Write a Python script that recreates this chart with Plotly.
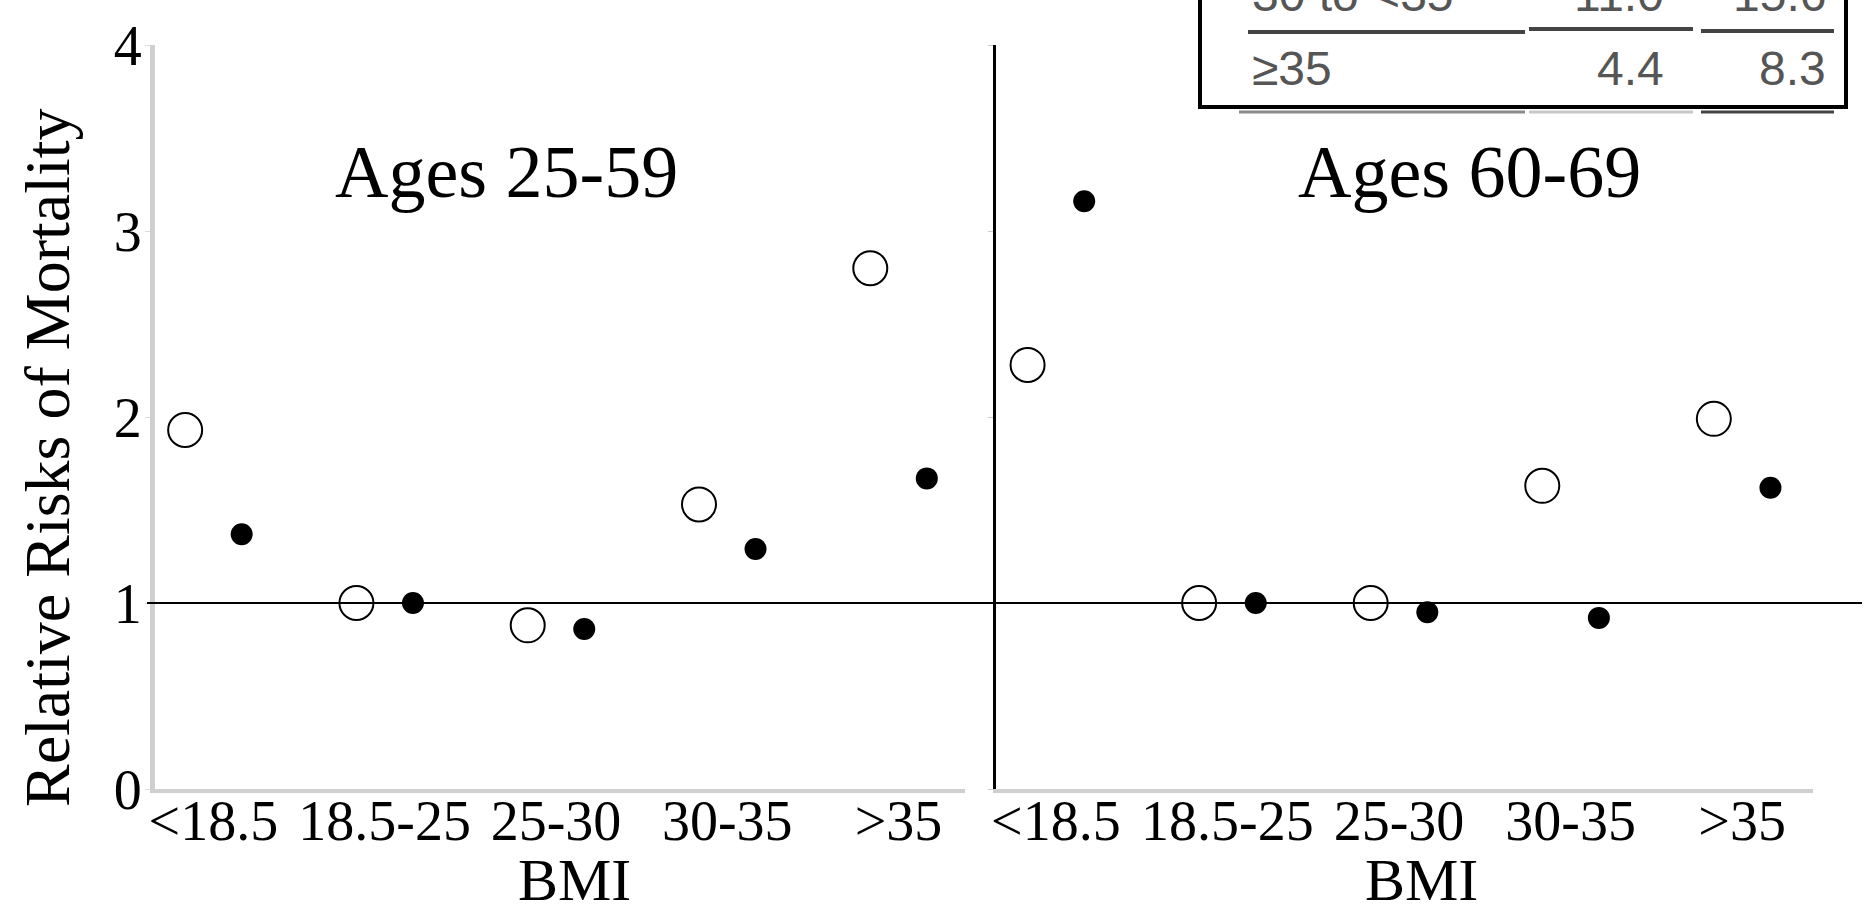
import plotly.graph_objects as go

W, H = 1864, 915

# BMI categories shared by both age panels
categories = ["<18.5", "18.5-25", "25-30", "30-35", ">35"]

# Relative risks, ages 25-59
open_25_59 = [1.93, 1.00, 0.88, 1.53, 2.80]
filled_25_59 = [1.37, 1.00, 0.86, 1.29, 1.67]

# Relative risks, ages 60-69
open_60_69 = [2.28, 1.00, 1.00, 1.63, 1.99]
filled_60_69 = [3.16, 1.00, 0.95, 0.92, 1.62]

y_ticks = [0, 1, 2, 3, 4]

# Inset table fragment (last rows)
table_rows = [["30 to <35", "11.0", "15.6"], ["\u226535", "4.4", "8.3"]]

SERIF = "Liberation Serif, Times New Roman, serif"
SANS = "Liberation Sans Narrow, Liberation Sans, Arial, sans-serif"

def px(x):
    return x / W

def py(y):
    return 1 - y / H

idx = list(range(len(categories)))
OFF = 0.165

fig = go.Figure()

open_marker = dict(symbol="circle", size=34, color="white", line=dict(color="black", width=2))
filled_marker = dict(symbol="circle", size=22, color="black", line=dict(width=0))

for xa, ya, o_vals, f_vals in [("x", "y", open_25_59, filled_25_59),
                               ("x2", "y2", open_60_69, filled_60_69)]:
    fig.add_trace(go.Scatter(x=[i - OFF for i in idx], y=o_vals, mode="markers",
                             marker=open_marker, xaxis=xa, yaxis=ya,
                             showlegend=False, name="hollow"))
    fig.add_trace(go.Scatter(x=[i + OFF for i in idx], y=f_vals, mode="markers",
                             marker=filled_marker, xaxis=xa, yaxis=ya,
                             showlegend=False, name="solid"))

axis_gray = "#cfcfcf"
tick_font = dict(family=SERIF, size=56, color="black")
title_font = dict(family=SERIF, size=60, color="black")

common_x = dict(tickmode="array", tickvals=idx, ticktext=categories,
                showgrid=False, zeroline=False, showline=True, linecolor=axis_gray,
                linewidth=4, ticks="", tickfont=tick_font, automargin=False,
                ticklabelstandoff=-20)

fig.update_layout(
    width=W, height=H,
    margin=dict(l=0, r=0, t=0, b=0, pad=0),
    paper_bgcolor="white", plot_bgcolor="white",
    xaxis=dict(domain=[px(155), px(965)], range=[-0.341, 4.388], anchor="y", **common_x),
    xaxis2=dict(domain=[px(996), px(1813)], range=[-0.349, 4.413], anchor="y2", **common_x),
    yaxis=dict(domain=[py(789), py(45)], range=[0, 4], tickvals=y_ticks, automargin=False,
               showgrid=False, zeroline=False, showline=True, linecolor=axis_gray,
               linewidth=5, ticks="outside", ticklen=5, tickcolor="#dddddd",
               tickfont=tick_font, ticklabelstandoff=-8),
    yaxis2=dict(domain=[py(789), py(45)], range=[0, 4], anchor="x2", tickvals=y_ticks,
                automargin=False, showticklabels=False, showgrid=False, zeroline=False,
                showline=True, linecolor="black", linewidth=3, ticks="outside", ticklen=5,
                tickcolor="#cccccc"),
)

# Axis titles
fig.add_annotation(text="Relative Risks of Mortality", xref="paper", yref="paper",
                   x=px(48), y=py(458), textangle=-90, xanchor="center", yanchor="middle",
                   showarrow=False, font=dict(family=SERIF, size=64, color="black"))
for cx in (574, 1421):
    fig.add_annotation(text="BMI", xref="paper", yref="paper", x=px(cx), y=py(880),
                       xanchor="center", yanchor="middle", showarrow=False, font=title_font)

# Reference line at a relative risk of 1 running across both panels
fig.add_shape(type="line", xref="paper", yref="y", x0=px(147), x1=px(1862), y0=1, y1=1,
              line=dict(color="black", width=2))

# Panel headings
for text, cx in [("Ages 25-59", 507), ("Ages 60-69", 1469)]:
    fig.add_annotation(text=text, xref="paper", yref="paper", x=px(cx), y=py(172),
                       xanchor="center", yanchor="middle", showarrow=False,
                       font=dict(family=SERIF, size=74, color="black"))

# Inset table: frame, rules and last rows
frame = dict(color="black", width=4)
fig.add_shape(type="line", xref="paper", yref="paper", x0=px(1200), x1=px(1200),
              y0=py(-5), y1=py(108), line=frame)
fig.add_shape(type="line", xref="paper", yref="paper", x0=px(1198), x1=px(1848),
              y0=py(107), y1=py(107), line=frame)
fig.add_shape(type="line", xref="paper", yref="paper", x0=px(1846), x1=px(1846),
              y0=py(-5), y1=py(108), line=frame)

rules = [(1248, 1525, 32, "#444444"), (1529, 1693, 29, "#444444"), (1701, 1834, 31, "#444444")]
for x0, x1, yy, c in rules:
    fig.add_shape(type="line", xref="paper", yref="paper", x0=px(x0), x1=px(x1),
                  y0=py(yy), y1=py(yy), line=dict(color=c, width=4))
under = [(1239, 1525, "#8a8a8a"), (1529, 1693, "#c8c8c8"), (1701, 1834, "#444444")]
for x0, x1, c in under:
    fig.add_shape(type="line", xref="paper", yref="paper", x0=px(x0), x1=px(x1),
                  y0=py(112), y1=py(112), line=dict(color=c, width=3))

table_font = dict(family=SANS, size=48, color="#555555")
for row, cy in zip(table_rows, [-6, 68]):
    fig.add_annotation(text=row[0], xref="paper", yref="paper", x=px(1250), y=py(cy),
                       xanchor="left", yanchor="middle", showarrow=False, font=table_font)
    fig.add_annotation(text=row[1], xref="paper", yref="paper", x=px(1666), y=py(cy),
                       xanchor="right", yanchor="middle", showarrow=False, font=table_font)
    fig.add_annotation(text=row[2], xref="paper", yref="paper", x=px(1828), y=py(cy),
                       xanchor="right", yanchor="middle", showarrow=False, font=table_font)

fig.write_html("out.html")
